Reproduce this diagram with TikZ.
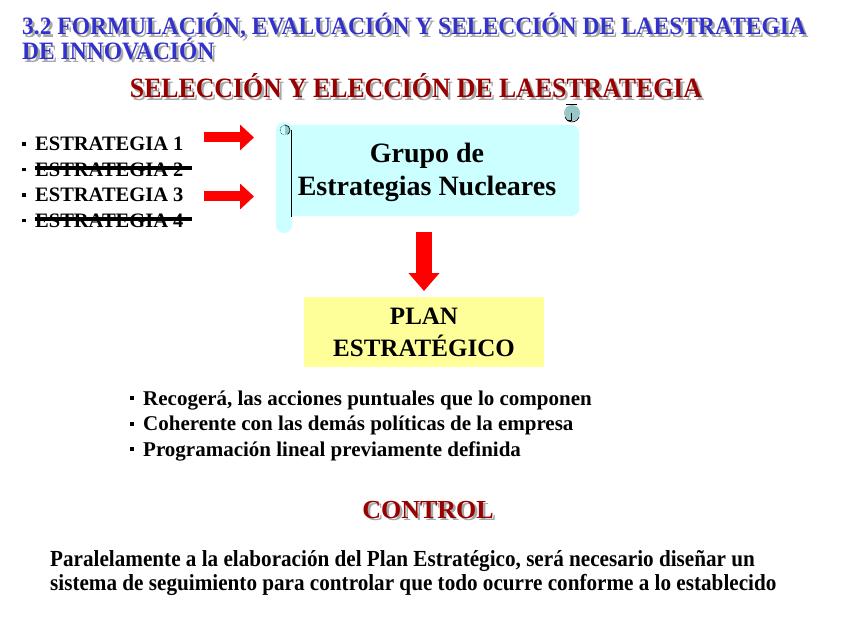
\documentclass[tikz,border=0pt]{standalone}
\usepackage{fontspec}
\setmainfont{Liberation Serif}
\newfontfamily\titfont[FakeStretch=0.94]{Liberation Serif}
\newfontfamily\subfont[FakeStretch=0.92]{Liberation Serif}
\newfontfamily\parfont[FakeStretch=0.92]{Liberation Serif}
\usetikzlibrary{arrows.meta}
\definecolor{azultit}{HTML}{3333CC}
\definecolor{rojotit}{HTML}{990000}
\definecolor{sombra}{HTML}{A8A8A8}
\definecolor{celeste}{HTML}{CCFFFF}
\definecolor{amarillo}{HTML}{FFFF99}
\definecolor{rollo}{HTML}{99C6C6}
\tikzset{
  texto/.style={inner sep=0pt, anchor=base west, font=\bfseries\fontsize{20.5}{24}\selectfont},
  flecha/.style={red, line width=10pt, -{Triangle[width=25pt,length=14pt]}},
}
\def\punto{\makebox[13pt][l]{\raisebox{5pt}{\rule{3.8pt}{3.8pt}}}}

\begin{document}
\begin{tikzpicture}[x=1pt,y=-1pt]
				\useasboundingbox (0,0) rectangle (848,636);
				
				% titulos
				\node[texto, sombra, font=\bfseries\titfont\fontsize{25}{30}\selectfont] at (24.5,37.5) {3.2 FORMULACIÓN, EVALUACIÓN Y SELECCIÓN DE LAESTRATEGIA};
				\node[texto, azultit, font=\bfseries\titfont\fontsize{25}{30}\selectfont] (tit1) at (22,35) {3.2 FORMULACIÓN, EVALUACIÓN Y SELECCIÓN DE LAESTRATEGIA};
				\node[texto, sombra, font=\bfseries\titfont\fontsize{25}{30}\selectfont] at (24.5,62.5) {DE INNOVACIÓN};
				\node[texto, azultit, font=\bfseries\titfont\fontsize{25}{30}\selectfont] (tit2) at (22,60) {DE INNOVACIÓN};
				\node[texto, anchor=base, sombra, font=\bfseries\subfont\fontsize{28}{32}\selectfont] at (418.5,100.5) {SELECCIÓN Y ELECCIÓN DE LAESTRATEGIA};
				\node[texto, anchor=base, rojotit, font=\bfseries\subfont\fontsize{28}{32}\selectfont] (sub) at (416,98) {SELECCIÓN Y ELECCIÓN DE LAESTRATEGIA};
				
				% estrategias
				\node[texto] (e1) at (22,151) {\punto ESTRATEGIA 1};
				\node[texto] (e2) at (22,176.5) {\punto ESTRATEGIA 2};
				\node[texto] (e3) at (22,202) {\punto ESTRATEGIA 3};
				\node[texto] (e4) at (22,227.5) {\punto ESTRATEGIA 4};
				\draw[line width=4pt] (35,168) -- (192,168);
				\draw[line width=4pt] (35,219) -- (192,219);
				
				% pergamino
				\draw[fill=celeste, draw=none, rounded corners=7pt] (282,125) rectangle (579,216);
				\draw[fill=celeste, draw=none, rounded corners=8pt] (276,122) rectangle (292,233);
				\draw[fill=rollo, draw=none] (572,113) circle (8);
				\draw[line width=0.7pt] (565,117) arc (160:20:7.5);
				\draw[line width=1.2pt] (566,104.5) -- (577,104.5);
				\draw[line width=0.7pt] (571,113) -- (571,120) -- (567,120);
				\fill[rollo] (285,125) arc (-90:90:5) -- cycle;
				\draw[line width=0.6pt] (285,125) arc (-90:60:5);
				\draw[line width=0.6pt, densely dotted] (285,125) arc (270:100:5);
				\draw[line width=0.8pt] (291,130) -- (291,217);
				\node[align=center, inner sep=0pt, font=\bfseries\fontsize{28}{33}\selectfont] (grupo) at (427,172) {Grupo de\\Estrategias Nucleares};
				
				\draw[flecha] (204,137.5) -- (254,137.5);
				\draw[flecha] (204,196.5) -- (254,196.5);
				
				% plan
				\node[fill=amarillo, minimum width=240pt, minimum height=70pt, align=center, inner sep=0pt, font=\bfseries\fontsize{25}{32}\selectfont] (plan) at (424,332) {PLAN\\ESTRATÉGICO};
				\draw[red, line width=16pt, -{Triangle[width=30pt,length=18pt]}] (424,232) -- (424,291);
				
				\node[texto, font=\bfseries\fontsize{21}{24}\selectfont] (b1) at (130,405) {\punto Recogerá, las acciones puntuales que lo componen};
				\node[texto, font=\bfseries\fontsize{21}{24}\selectfont] (b2) at (130,430.5) {\punto Coherente con las demás políticas de la empresa};
				\node[texto, font=\bfseries\fontsize{21}{24}\selectfont] (b3) at (130,456) {\punto Programación lineal previamente definida};
				
				% control
				\node[texto, anchor=base, sombra, font=\bfseries\fontsize{26}{30}\selectfont] at (430.5,520.5) {CONTROL};
				\node[texto, anchor=base, rojotit, font=\bfseries\fontsize{26}{30}\selectfont] (control) at (428,518) {CONTROL};
				\node[texto, font=\bfseries\parfont\fontsize{23}{25}\selectfont] (parr) at (50,566) {Paralelamente a la elaboración del Plan Estratégico, será necesario diseñar un};
				\node[texto, font=\bfseries\parfont\fontsize{23}{25}\selectfont] (parr2) at (50,590) {sistema de seguimiento para controlar que todo ocurre conforme a lo establecido};
			\end{tikzpicture}
\end{document}
